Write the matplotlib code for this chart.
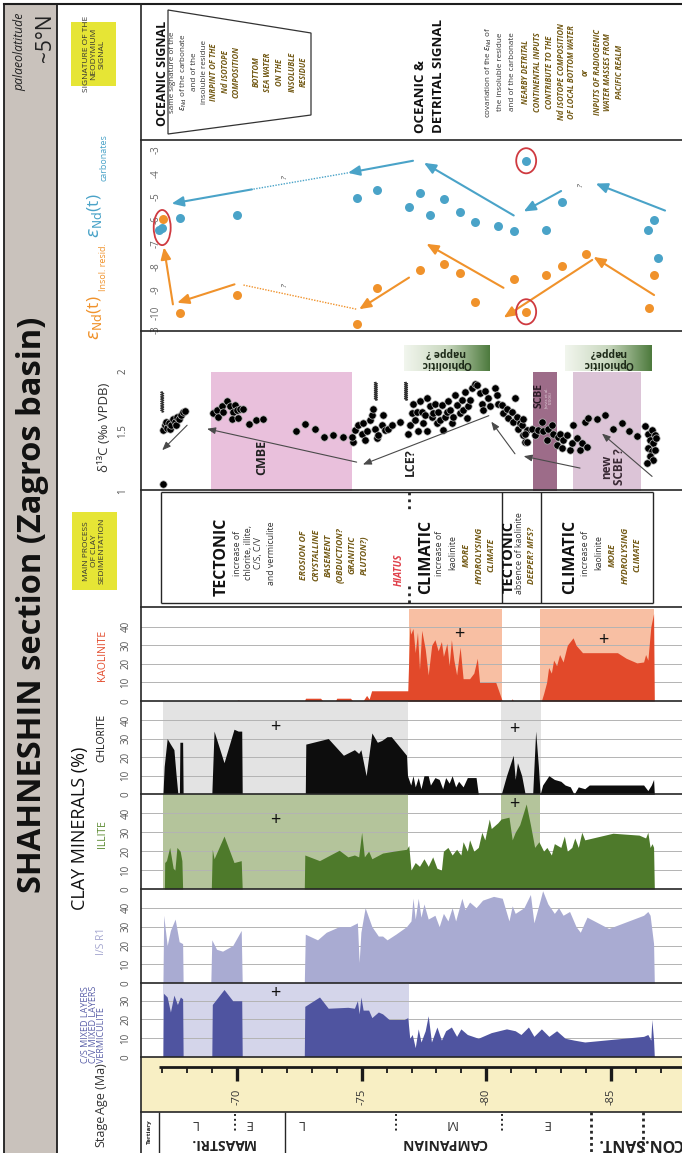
import numpy as np
import matplotlib
matplotlib.use("Agg")
import matplotlib.pyplot as plt
from matplotlib.patches import Rectangle, Ellipse, Polygon
from matplotlib.colors import LinearSegmentedColormap

plt.rcParams['font.family'] = ['Open Sans', 'DejaVu Sans']
plt.rcParams['mathtext.fontset'] = 'dejavusans'

# ====================== DATA ======================
AGE_RANGE = (66.15, 87.85)
AGE_MINOR = list(range(67, 88))
AGE_MAJOR = [70, 75, 80, 85]
AGE_MAJOR_LABELS = ['-70', '-75', '-80', '-85']

# epsilon Nd (age Ma, value)
ND_CARB = [(66.87, -6.42), (66.99, -6.34), (67.71, -5.9), (70.0, -5.77), (74.81, -5.06),
           (75.6, -4.73), (76.89, -5.45), (77.34, -4.83), (77.74, -5.77), (78.3, -5.12),
           (78.94, -5.68), (79.55, -6.1), (80.47, -6.25), (81.1, -6.46), (81.6, -3.46),
           (82.38, -6.42), (83.02, -5.25), (86.48, -6.42), (86.73, -5.99), (86.88, -7.63)]
ND_INSOL = [(67.03, -5.97), (67.71, -10.0), (70.0, -9.23), (74.81, -10.47), (75.6, -8.93),
            (77.34, -8.14), (78.3, -7.9), (78.94, -8.3), (79.55, -9.54), (81.1, -8.54),
            (81.6, -9.95), (82.38, -8.37), (83.02, -7.98), (83.99, -7.47), (86.52, -9.78),
            (86.73, -8.37)]
ND_TICKS = [-3, -4, -5, -6, -7, -8, -9, -10, -10.72]
ND_TICK_LABELS = ['-3', '-4', '-5', '-6', '-7', '-8', '-9', '-10', '-3']
ND_CARB_ARROWS = [((81.1, -5.81), (77.5, -3.55)), ((77.06, -3.46), (74.45, -3.98)),
                  ((70.6, -4.69), (67.38, -5.3)), ((83.0, -4.76), (81.5, -5.64)),
                  ((87.17, -5.6), (84.39, -4.44))]
ND_CARB_DOTTED = [((74.45, -3.98), (70.6, -4.69))]
ND_INSOL_ARROWS = [((67.43, -9.63), (67.07, -7.18)), ((69.9, -8.77), (67.6, -9.56)),
                   ((76.9, -8.48), (74.9, -9.84)), ((80.69, -8.92), (77.6, -7.03)),
                   ((84.25, -7.72), (80.7, -10.2)), ((86.73, -9.23), (84.3, -7.59))]
ND_INSOL_DOTTED = [((70.26, -8.8), (74.8, -9.84))]
ND_QUESTION = [(71.92, -4.15), (83.78, -4.51), (71.92, -8.8)]
ND_CIRCLES = [(67.0, -6.33, 0.68, 1.51), (81.6, -3.46, 0.8, 1.08), (81.6, -9.95, 0.8, 1.08)]

# delta 13C (age Ma, permil)
D13C = [(67.03, 1.06),
    (67.03, 1.51), (67.11, 1.55), (67.15, 1.58), (67.19, 1.53), (67.27, 1.57), (67.31, 1.52),
    (67.35, 1.55), (67.43, 1.60), (67.51, 1.58), (67.55, 1.55), (67.59, 1.62), (67.67, 1.60),
    (67.75, 1.64), (67.83, 1.66), (67.91, 1.67),
    (69.05, 1.65), (69.19, 1.68), (69.25, 1.62), (69.39, 1.71), (69.45, 1.66), (69.61, 1.75),
    (69.72, 1.71), (69.83, 1.66), (69.92, 1.72), (70.01, 1.68), (70.12, 1.69), (70.25, 1.69),
    (69.79, 1.60), (70.05, 1.61), (70.48, 1.56), (70.76, 1.59), (71.05, 1.60), (72.35, 1.50),
    (72.74, 1.56), (73.12, 1.52), (73.49, 1.45), (73.86, 1.47), (74.24, 1.45), (74.64, 1.41),
    (74.60, 1.45), (74.73, 1.51), (74.87, 1.55), (75.00, 1.48), (75.07, 1.57), (75.13, 1.43),
    (75.20, 1.50), (75.33, 1.59), (75.40, 1.64), (75.47, 1.69), (75.54, 1.52), (75.60, 1.44),
    (75.67, 1.47), (75.80, 1.55), (75.87, 1.64), (75.94, 1.51), (76.07, 1.52), (76.21, 1.55),
    (76.54, 1.58),
    (76.87, 1.48), (76.94, 1.55), (77.01, 1.65), (77.07, 1.73), (77.14, 1.59), (77.21, 1.66),
    (77.27, 1.50), (77.34, 1.75), (77.41, 1.66), (77.47, 1.57), (77.54, 1.64), (77.61, 1.50),
    (77.63, 1.78), (77.74, 1.71), (77.81, 1.62), (77.87, 1.65), (77.94, 1.73), (78.01, 1.57),
    (78.07, 1.66), (78.14, 1.59), (78.21, 1.72), (78.27, 1.51), (78.34, 1.62), (78.41, 1.66),
    (78.48, 1.75), (78.54, 1.68), (78.61, 1.57), (78.68, 1.62), (78.74, 1.80), (78.81, 1.72),
    (78.94, 1.65), (79.01, 1.76), (79.08, 1.68), (79.14, 1.83), (79.21, 1.61), (79.28, 1.71),
    (79.35, 1.76), (79.41, 1.86), (79.55, 1.90), (79.61, 1.89), (79.75, 1.82), (79.81, 1.73),
    (79.88, 1.68), (79.95, 1.84), (80.08, 1.78), (80.15, 1.71), (80.35, 1.86), (80.42, 1.80),
    (80.48, 1.73), (80.62, 1.72), (80.68, 1.65), (80.82, 1.69), (80.88, 1.61), (81.02, 1.66),
    (81.08, 1.58), (81.15, 1.78), (81.22, 1.62), (81.28, 1.52), (81.35, 1.57), (81.48, 1.47),
    (81.55, 1.41), (81.62, 1.51),
    (81.42, 1.55), (81.48, 1.60), (81.55, 1.48), (81.62, 1.41), (81.82, 1.52), (81.95, 1.47),
    (82.09, 1.51), (82.22, 1.58), (82.29, 1.50), (82.42, 1.43), (82.49, 1.52), (82.62, 1.55),
    (82.69, 1.48), (82.82, 1.38), (82.89, 1.45), (82.96, 1.48), (83.02, 1.36), (83.09, 1.43),
    (83.22, 1.47), (83.36, 1.34), (83.42, 1.40), (83.49, 1.55), (83.62, 1.44), (83.76, 1.34),
    (83.82, 1.40), (84.03, 1.37), (83.96, 1.58), (84.09, 1.61), (84.43, 1.60), (84.76, 1.64),
    (85.09, 1.52), (85.43, 1.57), (85.74, 1.50), (86.06, 1.46), (86.37, 1.54), (86.50, 1.48),
    (86.63, 1.51), (86.77, 1.47), (86.57, 1.43), (86.70, 1.40), (86.50, 1.36), (86.63, 1.33),
    (86.77, 1.34), (86.57, 1.29), (86.70, 1.26), (86.43, 1.23), (86.81, 1.44)]
D13C_TICKS = [1, 1.5, 2]
D13C_TICK_LABELS = ['1', '1.5', '2']
D13C_ARROWS = [((68.0, 1.55), (67.0, 1.34)), ((74.8, 1.24), (68.8, 1.52)),
               ((80.1, 1.63), (75.05, 1.22)), ((81.15, 1.31), (80.2, 1.58)),
               ((83.76, 1.19), (81.5, 1.29)), ((86.65, 1.12), (84.64, 1.48))]
D13C_EVENTS = [(68.96, 74.61, '#e9c0dc'), (81.86, 82.82, '#9d6c89'), (83.48, 86.2, '#dcc4d7')]
OPHIOLITE_BOXES = [(76.70, 80.11, 'Ophiolitic\nnappe ?'), (83.16, 86.61, 'Ophiolitic\nnappe?')]
HIATUS_MARKS = [(67.0, 1.66, 1.83), (75.57, 1.76, 1.91), (76.78, 1.76, 1.91)]

# clay minerals (age Ma, %)
KAOLINITE = [(66.9, 0), (69.95, 0), (70.05, 0.6), (70.15, 0), (72.7, 0), (72.75, 1.5), (73.35, 1.5),
    (73.45, 0), (73.95, 0), (74.0, 1.5), (74.55, 1.5), (74.65, 0), (75.05, 0), (75.2, 3), (75.3, 1),
    (75.4, 5.5), (76.85, 5.5), (76.93, 40), (76.97, 36), (77.06, 39), (77.15, 26), (77.24, 37),
    (77.32, 17), (77.41, 38), (77.55, 28), (77.67, 14), (77.81, 30), (77.94, 33), (78.07, 27),
    (78.2, 32), (78.28, 24), (78.42, 31), (78.51, 19), (78.6, 33), (78.7, 22), (78.81, 14),
    (78.95, 29), (79.07, 12), (79.33, 12), (79.5, 15), (79.64, 23), (79.73, 10), (80.38, 10),
    (80.64, 0), (80.99, 0), (81.04, 1.2), (81.09, 0), (82.21, 0), (82.3, 4), (82.42, 10),
    (82.5, 18), (82.61, 15), (82.7, 22), (82.82, 19), (82.94, 25), (83.08, 21), (83.25, 30),
    (83.48, 34), (83.6, 30), (83.86, 26), (85.26, 26), (85.61, 23), (86.04, 20.5), (86.31, 21),
    (86.39, 25), (86.48, 22), (86.6, 40), (86.71, 47), (86.74, 0)]
CHLORITE = [(67.03, 0), (67.08, 15), (67.2, 30), (67.33, 27), (67.47, 24), (67.56, 10), (67.63, 0),
    (67.69, 0), (67.71, 28), (67.82, 28), (67.84, 0), (68.99, 0), (69.08, 34), (69.48, 17),
    (69.88, 35), (70.05, 34), (70.19, 34), (70.21, 0), (72.74, 0), (72.76, 27), (73.66, 30),
    (74.27, 21), (74.71, 24), (74.88, 22), (74.97, 24), (75.18, 10), (75.41, 33), (75.63, 28),
    (75.81, 29), (76.02, 31), (76.19, 31), (76.8, 21), (76.84, 10), (76.97, 5), (77.06, 10),
    (77.15, 4), (77.27, 9), (77.38, 3), (77.5, 10), (77.67, 10), (77.76, 5), (77.94, 9),
    (78.11, 8), (78.25, 3), (78.37, 9), (78.51, 6), (78.63, 10), (78.77, 4), (78.89, 7),
    (79.07, 4), (79.24, 9), (79.59, 9), (79.68, 0), (80.6, 0), (80.81, 10), (81.08, 21),
    (81.16, 8), (81.25, 17), (81.42, 10), (81.56, 0), (81.86, 0), (81.98, 34), (82.09, 15),
    (82.16, 0), (82.26, 5), (82.51, 10), (82.73, 8), (82.99, 7), (83.16, 5), (83.37, 4),
    (83.52, 0), (83.69, 4), (83.95, 3), (84.13, 5), (86.31, 5), (86.48, 2), (86.62, 5),
    (86.71, 8), (86.74, 0)]
ILLITE = [(67.09, 0), (67.1, 14), (67.17, 15), (67.3, 22), (67.44, 11), (67.51, 10), (67.59, 22),
    (67.72, 20), (67.79, 15), (67.82, 0), (68.97, 0), (69.01, 21), (69.08, 16), (69.48, 28),
    (69.88, 14), (70.17, 15), (70.21, 0), (72.7, 0), (72.72, 18), (73.31, 15), (74.1, 20.5),
    (74.45, 17), (74.71, 18), (74.88, 17), (75.0, 30), (75.11, 17), (75.28, 20), (75.41, 16),
    (75.84, 19), (76.28, 20), (76.8, 21), (76.89, 23), (76.98, 10), (77.15, 14), (77.32, 12),
    (77.5, 16), (77.67, 12), (77.85, 17), (78.02, 11), (78.2, 10), (78.28, 20), (78.46, 22),
    (78.63, 18), (78.81, 21), (78.98, 18), (79.07, 25), (79.24, 20), (79.33, 26), (79.5, 20),
    (79.68, 22), (79.82, 30), (79.94, 26), (80.12, 37), (80.2, 32), (80.46, 35), (80.59, 37),
    (80.91, 38), (81.04, 26), (81.16, 30), (81.34, 34), (81.6, 45), (81.77, 34), (81.94, 22),
    (82.11, 25), (82.3, 20), (82.43, 22), (82.61, 18), (82.73, 24), (82.99, 22), (83.13, 28),
    (83.25, 20), (83.43, 22), (83.55, 27), (83.69, 22), (83.83, 30), (83.95, 26), (85.08, 29.5),
    (86.13, 28.5), (86.39, 27), (86.48, 30), (86.57, 22), (86.65, 24), (86.71, 22), (86.74, 0)]
IS_R1 = [(67.03, 0), (67.06, 36), (67.2, 20), (67.33, 28), (67.52, 34), (67.68, 22), (67.82, 21),
    (67.84, 0), (68.95, 0), (68.99, 23), (69.18, 18), (69.42, 17), (69.83, 20), (70.17, 28),
    (70.21, 0), (72.7, 0), (72.74, 26), (73.23, 23), (73.58, 27), (74.1, 30), (74.53, 30),
    (74.83, 32), (74.9, 11), (74.97, 27), (75.14, 40), (75.41, 30), (75.67, 25), (75.84, 25),
    (76.02, 23), (76.37, 26), (76.8, 30), (76.98, 33), (77.06, 45), (77.15, 34), (77.27, 45),
    (77.38, 35), (77.5, 42), (77.67, 34), (77.94, 36), (78.11, 30), (78.28, 37), (78.46, 33),
    (78.63, 40), (78.77, 33), (79.02, 45), (79.15, 39), (79.33, 43), (79.59, 40), (79.85, 44),
    (80.29, 46), (80.64, 45), (80.91, 33), (81.04, 41), (81.16, 37), (81.51, 40), (81.77, 47),
    (81.91, 32), (82.12, 42), (82.26, 49), (82.47, 42), (82.73, 37), (82.9, 40), (83.08, 36),
    (83.34, 38), (83.6, 30), (83.77, 27), (84.04, 35), (84.91, 29), (86.31, 36), (86.48, 38),
    (86.57, 36), (86.71, 21), (86.74, 0)]
CS_CV_VERM = [(67.03, 0), (67.05, 34), (67.2, 32), (67.33, 24), (67.47, 33), (67.61, 28), (67.73, 32),
    (67.82, 31), (67.84, 0), (68.99, 0), (69.01, 28), (69.48, 36), (69.83, 30), (70.19, 30),
    (70.21, 0), (72.7, 0), (72.72, 27), (73.31, 32), (73.66, 26), (74.45, 26.5), (74.71, 26),
    (74.83, 30), (74.9, 23), (74.97, 32), (75.06, 25), (75.28, 25), (75.41, 21), (75.67, 24),
    (75.84, 23), (76.1, 20), (76.71, 20), (76.85, 21), (76.93, 10), (77.03, 12), (77.15, 5),
    (77.27, 15), (77.38, 8), (77.55, 14), (77.67, 22), (77.8, 8), (78.02, 16), (78.2, 9),
    (78.37, 14), (78.6, 16), (78.81, 11), (78.98, 15), (79.24, 12), (79.68, 10), (80.2, 13),
    (80.81, 15), (81.16, 14), (81.39, 12), (81.69, 16), (81.91, 11), (82.21, 15), (82.51, 11),
    (82.82, 14), (83.16, 10), (83.52, 9), (83.95, 8), (86.31, 11), (86.48, 12), (86.6, 9),
    (86.64, 20), (86.71, 9), (86.74, 0)]
KAO_BOXES = [(76.89, 80.64), (82.17, 86.74)]
CHL_BOXES = [(67.03, 76.84), (80.6, 82.19)]
ILL_BOXES = [(67.05, 76.84), (80.6, 82.16)]
CS_BOXES = [(67.03, 76.9)]
KAO_PLUS = [(78.93, 36), (84.7, 33)]
CHL_PLUS = [(71.52, 36.4), (81.11, 35.2)]
ILL_PLUS = [(71.52, 36.5), (81.11, 44.8)]
CS_PLUS = [(71.52, 33.9)]
CLAY_TICKS = [0, 10, 20, 30, 40]
CS_TICKS = [0, 10, 20, 30]

PROCESS_BOUNDS = [66.95, 80.63, 82.2, 86.7]
PROCESS_HIATUS = 76.89
STAGE_SOLID = [66.87, 71.93]
STAGE_SUB = [69.92, 76.38, 80.63]
STAGE_MAJOR_DOTTED = [84.2, 86.28]

# ====================== LAYOUT ======================
W, H = 682, 1153
PX_L, PX_R = 141, 682
fig = plt.figure(figsize=(W / 100, H / 100), dpi=100)
fig.patch.set_facecolor('white')

def add_panel(y_top, y_bot, ylim):
    ax = fig.add_axes([PX_L / W, 1 - y_bot / H, (PX_R - PX_L) / W, (y_bot - y_top) / H])
    ax.set_xlim(*AGE_RANGE)
    ax.set_ylim(*ylim)
    for s in ax.spines.values():
        s.set_visible(False)
    ax.set_xticks([])
    ax.set_yticks([])
    ax.patch.set_alpha(0)
    return ax

LINE = '#262626'
OLIVE = '#735a16'
ORANGE = '#f0922b'
BLUE = '#4aa3c8'

# ---------- epsilon Nd panel ----------
ax_nd = add_panel(140, 331, (-10.775, -2.568))
ax_nd.set_yticks(ND_TICKS)
ax_nd.set_yticklabels(ND_TICK_LABELS)
ax_nd.tick_params(axis='y', length=0, pad=-15, labelrotation=90, labelsize=7, labelcolor='#666666')
for t in ax_nd.get_yticklabels():
    t.set_va('center')
ca, cv = zip(*ND_CARB)
ia, iv = zip(*ND_INSOL)
ax_nd.scatter(ca, cv, s=42, color=BLUE, zorder=4, lw=0)
ax_nd.scatter(ia, iv, s=42, color=ORANGE, zorder=4, lw=0)
for arrows, col in ((ND_CARB_ARROWS, BLUE), (ND_INSOL_ARROWS, ORANGE)):
    for (t0, h0) in arrows:
        ax_nd.annotate('', xy=h0, xytext=t0,
                       arrowprops=dict(arrowstyle='-|>,head_length=0.7,head_width=0.3', color=col,
                                       lw=1.5, shrinkA=0, shrinkB=0))
for segs, col in ((ND_CARB_DOTTED, BLUE), (ND_INSOL_DOTTED, ORANGE)):
    for (a, b) in segs:
        ax_nd.plot([a[0], b[0]], [a[1], b[1]], color=col, lw=1.0, ls=(0, (1, 1)))
for (qa, qv) in ND_QUESTION:
    ax_nd.text(qa, qv, '?', rotation=90, fontsize=6, style='italic', ha='center', va='center', color='#444')
for (ea, ev, ew, eh) in ND_CIRCLES:
    ax_nd.add_patch(Ellipse((ea, ev), ew, eh, fill=False, ec='#cf3a40', lw=1.3, zorder=5))

# ---------- delta13C panel ----------
ax_c = add_panel(332, 490.7, (1.0, 2.333))
ax_c.set_yticks(D13C_TICKS)
ax_c.set_yticklabels(D13C_TICK_LABELS)
ax_c.tick_params(axis='y', length=0, pad=9, labelrotation=90, labelsize=7, labelcolor='#555555')
for t in ax_c.get_yticklabels():
    t.set_va('center')
for (a0, a1, col) in D13C_EVENTS:
    ax_c.add_patch(Rectangle((a0, 1.0), a1 - a0, 1.0, fc=col, ec='none', zorder=0))
green = LinearSegmentedColormap.from_list('g', ['#f2f6ee', '#c9d8bf', '#4d7a3d'])
grad = np.linspace(0, 1, 256).reshape(1, -1)
for (a0, a1, lab) in OPHIOLITE_BOXES:
    ax_c.imshow(grad, extent=(a0, a1, 2.007, 2.22), aspect='auto', cmap=green, zorder=0.5)
    ax_c.text((a0 + a1) / 2, 2.113, lab, rotation=180, ha='center', va='center', fontsize=7.5,
              fontweight='bold', color='#1d2a18', linespacing=1.0, zorder=3)
ax_c.set_xlim(*AGE_RANGE)
ax_c.set_ylim(1.0, 2.333)
da, dv = zip(*D13C)
ax_c.scatter(da, dv, s=28, color='black', edgecolor='#b8b8b8', lw=0.5, zorder=4)
for (t0, h0) in D13C_ARROWS:
    ax_c.annotate('', xy=h0, xytext=t0,
                  arrowprops=dict(arrowstyle='-|>,head_length=0.5,head_width=0.2', color='#4a4a4a',
                                  lw=0.8, shrinkA=0, shrinkB=0), zorder=5)
tt = np.linspace(0, 1, 200)
for (ha_, v0, v1) in HIATUS_MARKS:
    ax_c.plot(ha_ + 0.06 * np.sin(2 * np.pi * 9 * tt), v0 + (v1 - v0) * tt, color='#333', lw=0.9, zorder=4)
ax_c.text(71.0, 1.28, 'CMBE', rotation=90, fontsize=9, fontweight='bold', ha='center', va='center', color='#222')
ax_c.text(76.95, 1.24, 'LCE?', rotation=90, fontsize=9, fontweight='bold', ha='center', va='center', color='#222')
ax_c.text(82.12, 1.80, 'SCBE', rotation=90, fontsize=7.5, fontweight='bold', ha='center', va='center', color='#2b1b26')
ax_c.text(82.5, 1.78, 'Jarvis et al.\n(2006)', rotation=90, fontsize=3.2, ha='center', va='center', color='#e0cfd9')
ax_c.text(85.1, 1.20, 'new\nSCBE ?', rotation=90, fontsize=8.5, fontweight='bold', ha='center', va='center',
          color='#3a2a35', linespacing=1.0)

# ---------- process panel ----------
ax_p = add_panel(490, 607, (607, 490))
ax_p.hlines([491.5, 603], PROCESS_BOUNDS[0], PROCESS_BOUNDS[-1], color=LINE, lw=1.0)
ax_p.vlines(PROCESS_BOUNDS, 491.5, 603, color=LINE, lw=1.0)
ax_p.vlines([PROCESS_HIATUS], 491.5, 512, color=LINE, lw=2.0, linestyles=(0, (1, 1.5)))
ax_p.vlines([PROCESS_HIATUS], 586, 603, color=LINE, lw=2.0, linestyles=(0, (1, 1.5)))

# ---------- clay panels ----------
def clay(y_top, y_bot, ymax, data, col, boxes, boxcol, pluses, ticks):
    ax = add_panel(y_top, y_bot, (0, ymax))
    for (a0, a1) in boxes:
        ax.add_patch(Rectangle((a0, 0), a1 - a0, ymax, fc=boxcol, ec='none', zorder=0))
    for g in ticks[1:]:
        ax.axhline(g, color='#b3b3b3', lw=0.7, zorder=1)
    a, v = zip(*data)
    ax.fill_between(a, 0, v, color=col, lw=0, zorder=2)
    for (pa, pv) in pluses:
        ax.text(pa, pv, '+', fontsize=13, ha='center', va='center', color='#111', zorder=3)
    ax.set_yticks(ticks)
    ax.set_yticklabels([str(t) for t in ticks])
    ax.tick_params(axis='y', length=0, pad=7, labelrotation=90, labelsize=7, labelcolor='#555555')
    for t in ax.get_yticklabels():
        t.set_va('center')
    return ax

clay(609, 701, 49.5, KAOLINITE, '#e2492a', KAO_BOXES, '#f8bfa3', KAO_PLUS, CLAY_TICKS)
clay(701, 794.3, 50.2, CHLORITE, '#0d0d0d', CHL_BOXES, '#e3e3e3', CHL_PLUS, CLAY_TICKS)
clay(794.3, 889, 50.1, ILLITE, '#4e7a2b', ILL_BOXES, '#b4c49b', ILL_PLUS, CLAY_TICKS)
clay(889, 983.3, 49.9, IS_R1, '#a9abd2', [], '#ffffff', [], CLAY_TICKS)
clay(983.3, 1057, 39.3, CS_CV_VERM, '#4f54a0', CS_BOXES, '#d4d5ea', CS_PLUS, CS_TICKS)

# ---------- age axis ----------
ax_age = add_panel(1057, 1112, (1112, 1057))
ax_age.patch.set_alpha(1)
ax_age.set_facecolor('#f8efc4')
ax_age.hlines(1067, STAGE_SOLID[0], AGE_RANGE[1], color='#1a1a1a', lw=2.0)
ax_age.vlines(AGE_MINOR, 1067, 1073, color='#1a1a1a', lw=1.3)
ax_age.vlines(AGE_MAJOR, 1067, 1081, color='#1a1a1a', lw=2.4)
for a, lab in zip(AGE_MAJOR, AGE_MAJOR_LABELS):
    ax_age.text(a, 1097, lab, rotation=90, ha='center', va='center', fontsize=8, color='#333')

# ---------- stage row ----------
ax_s = add_panel(1112, 1153, (1153, 1112))
ax_s.vlines(STAGE_SOLID, 1112, 1153, color=LINE, lw=1.0)
ax_s.vlines(STAGE_SUB, 1114, 1131, color=LINE, lw=1.4, linestyles=(0, (1, 1.5)))
ax_s.vlines(STAGE_MAJOR_DOTTED, 1112, 1153, color=LINE, lw=2.0, linestyles=(0, (1, 1.2)))
for (a, lab) in [(68.28, 'L'), (70.45, 'E'), (72.55, 'L'), (78.58, 'M'), (82.4, 'E')]:
    ax_s.text(a, 1124, lab, rotation=180, ha='center', va='center', fontsize=9.5, color='#333')
ax_s.text(69.4, 1143, 'MAASTRI.', rotation=180, ha='center', va='center', fontsize=10, fontweight='bold', color='#222')
ax_s.text(78.3, 1143, 'CAMPANIAN', rotation=180, ha='center', va='center', fontsize=10, fontweight='bold', color='#222')
ax_s.text(84.45, 1143, 'CON.SANT.', rotation=180, ha='left', va='center', fontsize=11.5, fontweight='bold', color='#222')
ax_s.text(66.5, 1132, 'Tertiary', rotation=90, ha='center', va='center', fontsize=4.5, fontweight='bold', color='#222')

# ====================== OVERLAY (frames and texts, pixel coords) ======================
ov = fig.add_axes([0, 0, 1, 1], zorder=10)
ov.set_xlim(0, W)
ov.set_ylim(H, 0)
ov.axis('off')

ov.add_patch(Rectangle((4, 3.5), 53, 1160, fc='#c9c2bc', ec='#1e1e1e', lw=1.3, zorder=0))
ov.plot([4, 682], [3.5, 3.5], color='#1e1e1e', lw=1.5)
ov.plot([141, 141], [3.5, 1153], color=LINE, lw=1.2)
for y in [140, 331, 490, 607, 701, 794.3, 889, 983.3, 1057, 1112]:
    ov.plot([141, 682], [y, y], color=LINE, lw=1.2)

def rtext(x, y, s, size=7, color='#222', weight='normal', style='normal', va='center', **kw):
    ov.text(x, y, s, rotation=90, ha='center', va=va, fontsize=size, color=color,
            fontweight=weight, fontstyle=style, **kw)

# title column
rtext(33, 605, 'SHAHNESHIN section (Zagros basin)', size=23.5, weight='bold', color='#111')
rtext(20, 52, 'palaeolatitude', size=8.8, style='italic', color='#222')
rtext(45, 38, '~5°N', size=15, color='#222')

# yellow label boxes
ov.add_patch(Rectangle((71, 22), 45, 64, fc='#e6e535', ec='none'))
rtext(94, 54, 'SIGNATURE OF THE\nNEODYMIUM\nSIGNAL', size=6, color='#333', linespacing=1.15)
ov.add_patch(Rectangle((72, 512), 45, 78, fc='#e6e535', ec='none'))
rtext(94.5, 551, 'MAIN PROCESS\nOF CLAY\nSEDIMENTATION', size=6, color='#333', linespacing=1.15)

# panel labels
rtext(95, 318, r'$\varepsilon_{\rm Nd}$(t)', size=12.5, color=ORANGE)
rtext(104, 267, 'Insol. resid.', size=6.5, color=ORANGE)
rtext(95, 216, r'$\varepsilon_{\rm Nd}$(t)', size=12.5, color=BLUE)
rtext(104, 158, 'carbonates', size=6.5, color=BLUE)
rtext(104, 427, 'δ¹³C (‰ VPDB)', size=9.5, color='#333')
rtext(102, 655, 'KAOLINITE', size=7.5, color='#e2492a')
rtext(102, 738, 'CHLORITE', size=7.5, color='#111')
rtext(80.5, 828, 'CLAY MINERALS (%)', size=13, color='#111')
rtext(102, 834, 'ILLITE', size=7.5, color='#5b8a30')
rtext(102, 941, 'I/S R1', size=7.5, color='#a4a6cf')
rtext(85, 1063, 'C/S MIXED LAYERS', size=6.5, color='#5a5fa8', va='bottom')
rtext(93.5, 1063, 'C/V MIXED LAYERS', size=6.5, color='#5a5fa8', va='bottom')
rtext(101, 1063, 'VERMICULITE', size=6.5, color='#5a5fa8', va='bottom')
rtext(101, 1089, 'Age (Ma)', size=9, color='#333')
rtext(101, 1131, 'Stage', size=9, color='#333')

# signature block
ov.add_patch(Polygon([(168, 10), (311, 33), (311, 115), (168, 134)], closed=True, fill=False,
                     ec='#333', lw=0.9))
SIG = [(162, 'OCEANIC SIGNAL', 'h'), (173, 'same signature of the', 's'),
       (183.5, r'$\varepsilon_{\rm Nd}$ of the carbonate', 's'), (194, 'and of the', 's'),
       (204, 'insoluble residue', 's'), (214, 'INRPINT OF THE', 'e'), (225, 'Nd ISOTOPE', 'e'),
       (236, 'COMPOSITION', 'e'), (256, 'BOTTOM', 'e'), (268, 'SEA WATER', 'e'),
       (280, 'ON THE', 'e'), (292, 'INSOLUBLE', 'e'), (303, 'RESIDUE', 'e'),
       (489, r'covariation of the $\varepsilon_{\rm Nd}$ of', 's'), (501, 'the insoluble residue', 's'),
       (512, 'and of the carbonate', 's'), (526, 'NEARBY DETRITAL', 'e'),
       (538, 'CONTINENTAL INPUTS', 'e'), (549, 'CONTRIBUTE TO THE', 'e'),
       (561, 'Nd ISOTOPE COMPOSITION', 'e'), (572, 'OF LOCAL BOTTOM WATER', 'e'),
       (585, 'or', 'e'), (597, 'INPUTS OF RADIOGENIC', 'e'), (608, 'WATER MASSES FROM', 'e'),
       (619, 'PACIFIC REALM', 'e')]
for (x, s, k) in SIG:
    if k == 'h':
        rtext(x, 73, s, size=9, weight='bold', color='#111')
    elif k == 's':
        rtext(x, 72, s, size=5.8, color='#333')
    else:
        rtext(x, 72, s, size=5.6, weight='bold', style='italic', color=OLIVE)
rtext(420, 133, 'OCEANIC &', size=9.5, weight='bold', color='#111', va='bottom')
rtext(439, 133, 'DETRITAL SIGNAL', size=9.5, weight='bold', color='#111', va='bottom')

# process texts
PROC = [(222, 'TECTONIC', 'h'), (237, 'increase of', 's'), (248, 'chlorite, illite,', 's'),
        (259, 'C/S, C/V', 's'), (271, 'and vermiculite', 's'), (304, 'EROSION OF', 'e'),
        (316, 'CRYSTALLINE', 'e'), (328, 'BASEMENT', 'e'), (340, '(OBDUCTION?', 'e'),
        (352, 'GRANITIC', 'e'), (364, 'PLUTON?)', 'e'),
        (399, 'HIATUS', 'r'), (426, 'CLIMATIC', 'h'), (440, 'increase of', 's'),
        (453, 'kaolinite', 's'), (466, 'MORE', 'e'), (479, 'HYDROLYSING', 'e'), (491, 'CLIMATE', 'e'),
        (509, 'TECTONIC', 'h2'), (520, 'absence of kaolinite', 's'), (531, 'DEEPER? MFS?', 'e'),
        (570, 'CLIMATIC', 'h'), (586, 'increase of', 's'), (599, 'kaolinite', 's'),
        (612, 'MORE', 'e'), (625, 'HYDROLYSING', 'e'), (637, 'CLIMATE', 'e')]
for (x, s, k) in PROC:
    if k == 'h':
        rtext(x, 557, s, size=11.5, weight='bold', color='#111')
    elif k == 'h2':
        rtext(x, 557, s, size=10.5, weight='bold', color='#111')
    elif k == 's':
        rtext(x, 553, s, size=6.3, color='#333')
    elif k == 'r':
        rtext(x, 570, s, size=7, weight='bold', style='italic', color='#e0404a')
    else:
        rtext(x, 555, s, size=6.2, weight='bold', style='italic', color=OLIVE)

fig.savefig('out.png', dpi=100, facecolor='white')
